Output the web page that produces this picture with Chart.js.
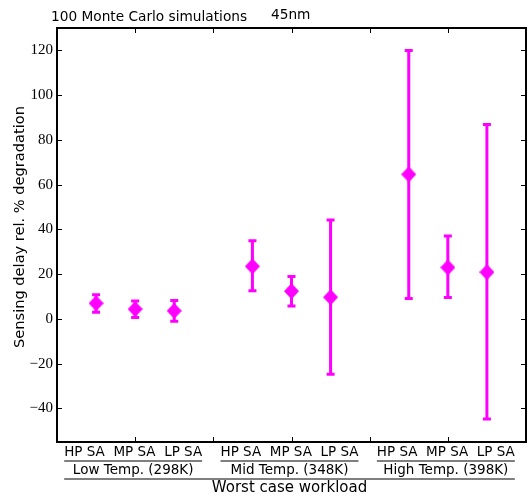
<!DOCTYPE html>
<html>
<head>
<meta charset="utf-8">
<script src="https://cdn.jsdelivr.net/npm/chart.js@4.4.1/dist/chart.umd.min.js"></script>
<style>
  body { margin: 0; background: #fff; }
  #mycanvas { display: block; }
</style>
</head>
<body>
<canvas id="mycanvas" width="531" height="497"></canvas>
<script>
// data
var xPos = [0.5, 1, 1.5, 2.5, 3, 3.5, 4.5, 5, 5.5];
var saLabels = ['HP SA', 'MP SA', 'LP SA'];
var groupLabels = ['Low Temp. (298K)', 'Mid Temp. (348K)', 'High Temp. (398K)'];
var groupCenters = [1, 3, 5];
var meanDeg = [7, 4.4, 3.6, 23.5, 12.4, 9.7, 64.6, 23, 20.9];
var lowDeg = [3, 0.6, -1, 12.6, 5.8, -24.7, 9.1, 9.6, -44.7];
var highDeg = [10.8, 8, 8.2, 34.9, 19, 44.2, 120, 37, 86.9];
var yTicks = [-40, -20, 0, 20, 40, 60, 80, 100, 120];

var MAGENTA = '#ff00ff';
var SANS = '"DejaVu Sans", sans-serif';

// diamond marker
var diamond = document.createElement('canvas');
diamond.width = 15; diamond.height = 16;
(function(){
  var c = diamond.getContext('2d');
  c.fillStyle = MAGENTA;
  c.beginPath();
  c.moveTo(7.5, 0); c.lineTo(15, 8); c.lineTo(7.5, 16); c.lineTo(0, 8);
  c.closePath(); c.fill();
})();

var errorBars = {
  id: 'errorBars',
  beforeDatasetsDraw: function(chart) {
    var ctx = chart.ctx, xs = chart.scales.x, ys = chart.scales.y;
    ctx.save();
    ctx.strokeStyle = MAGENTA;
    ctx.lineWidth = 3;
    for (var i = 0; i < xPos.length; i++) {
      var px = xs.getPixelForValue(xPos[i]);
      var lo = ys.getPixelForValue(lowDeg[i]);
      var hi = ys.getPixelForValue(highDeg[i]);
      ctx.beginPath();
      ctx.moveTo(px, lo); ctx.lineTo(px, hi);
      ctx.moveTo(px - 4, lo); ctx.lineTo(px + 4, lo);
      ctx.moveTo(px - 4, hi); ctx.lineTo(px + 4, hi);
      ctx.stroke();
    }
    ctx.restore();
  }
};

var decorations = {
  id: 'decorations',
  afterDraw: function(chart) {
    var ctx = chart.ctx, xs = chart.scales.x, ys = chart.scales.y;
    var a = chart.chartArea;
    ctx.save();
    // inward tick marks
    ctx.strokeStyle = '#000';
    ctx.lineWidth = 1;
    ctx.beginPath();
    for (var t = 1; t <= 5; t++) {
      var px = Math.round(xs.getPixelForValue(t)) + 0.5;
      ctx.moveTo(px, a.top); ctx.lineTo(px, a.top + 5);
      ctx.moveTo(px, a.bottom); ctx.lineTo(px, a.bottom - 5);
    }
    for (var k = 0; k < yTicks.length; k++) {
      var py = Math.round(ys.getPixelForValue(yTicks[k])) + 0.5;
      ctx.moveTo(a.left, py); ctx.lineTo(a.left + 5, py);
      ctx.moveTo(a.right, py); ctx.lineTo(a.right - 5, py);
    }
    ctx.stroke();

    // titles
    ctx.fillStyle = '#000';
    ctx.font = '13.7px ' + SANS;
    ctx.textBaseline = 'middle';
    ctx.textAlign = 'left';
    ctx.fillText('100 Monte Carlo simulations', 51, 17);
    ctx.fillText('45nm', 271, 15);

    ctx.save();
    ctx.font = '14.6px ' + SANS;
    ctx.translate(20, 227);
    ctx.rotate(-Math.PI / 2);
    ctx.textAlign = 'center';
    ctx.fillText('Sensing delay rel. % degradation', 0, 0);
    ctx.restore();

    // category labels under the axis
    ctx.font = '13.5px ' + SANS;
    ctx.textAlign = 'center';
    var row = saLabels.join('  ');
    var w = ctx.measureText(row).width;
    var first = null, last = null;
    ctx.lineWidth = 1.2;
    for (var g = 0; g < groupCenters.length; g++) {
      var cx = xs.getPixelForValue(groupCenters[g]) - 2;
      ctx.fillText(row, cx, 452);
      ctx.beginPath();
      ctx.moveTo(cx - w / 2, 461); ctx.lineTo(cx + w / 2, 461);
      ctx.stroke();
      ctx.fillText(groupLabels[g], cx, 470);
      if (first === null) first = cx - w / 2;
      last = cx + w / 2;
    }
    ctx.beginPath();
    ctx.moveTo(first, 479); ctx.lineTo(last, 479);
    ctx.stroke();
    ctx.font = '15px ' + SANS;
    ctx.fillText('Worst case workload', (first + last) / 2, 488);
    ctx.restore();
  }
};

var points = xPos.map(function(x, i) { return { x: x, y: meanDeg[i] }; });

var ctx = document.getElementById('mycanvas');
var chart = new Chart(ctx, {
  type: 'scatter',
  data: {
    datasets: [{
      data: points,
      pointStyle: diamond,
      backgroundColor: MAGENTA,
      borderColor: MAGENTA,
      showLine: false
    }]
  },
  options: {
    responsive: false,
    animation: false,
    events: [],
    layout: { padding: { top: 28, right: 2, left: 0, bottom: 0 } },
    plugins: { legend: { display: false }, tooltip: { enabled: false } },
    scales: {
      x: {
        type: 'linear', position: 'bottom', min: 0, max: 6,
        ticks: { display: false, stepSize: 1 },
        grid: { display: false },
        border: { display: true, color: '#000', width: 2 },
        afterFit: function(s) { s.height = 55; }
      },
      x2: {
        type: 'linear', position: 'top', min: 0, max: 6,
        ticks: { display: false },
        grid: { display: false },
        border: { display: true, color: '#000', width: 2 },
        afterFit: function(s) { s.height = 0; }
      },
      y: {
        type: 'linear', position: 'left', min: -55, max: 130,
        ticks: {
          stepSize: 20,
          includeBounds: false,
          padding: 4,
          color: '#000',
          font: { family: '"Liberation Serif", serif', size: 15 },
          callback: function(v) { return v < 0 ? '\u2212' + Math.abs(v) : String(v); }
        },
        grid: { display: false, drawTicks: false },
        border: { display: true, color: '#000', width: 2 },
        afterFit: function(s) { s.width = 57; }
      },
      y2: {
        type: 'linear', position: 'right', min: -55, max: 130,
        ticks: { display: false },
        grid: { display: false, drawTicks: false },
        border: { display: true, color: '#000', width: 2 },
        afterFit: function(s) { s.width = 0; }
      }
    }
  },
  plugins: [errorBars, decorations]
});
</script>
</body>
</html>
